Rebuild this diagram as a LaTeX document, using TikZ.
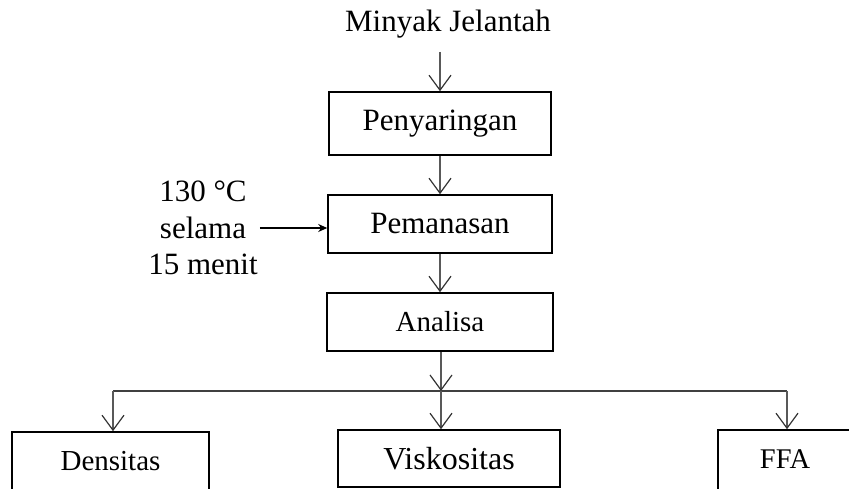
\documentclass[tikz,border=0pt]{standalone}
\usepackage{fontspec}
\setmainfont{Liberation Serif}
\usetikzlibrary{arrows.meta}
\begin{document}
\begin{tikzpicture}[x=1pt,y=1pt,
  box/.style={draw=black,line width=1.6pt,rectangle,inner sep=0pt},
  flow/.style={draw=black!65,line width=1.3pt,-{Straight Barb[length=15pt,width=22pt,line width=1.2pt,black!80]}},
  plain/.style={draw=black!75,line width=1.4pt},
  heat/.style={draw=black,line width=1.8pt,-{Stealth[length=9pt,width=8pt,inset=3pt]}},
  big/.style={font=\fontsize{31}{36.5}\selectfont},
  mid/.style={font=\fontsize{29}{34}\selectfont}]
\useasboundingbox (0,0) rectangle (849,488);
\node[big,anchor=base] (minyak) at (448,456) {Minyak Jelantah};
\coordinate (in) at (440,436);
\node[box,big,minimum width=222pt,minimum height=63pt] (pen) at (440,364.5) {Penyaringan};
\node[box,big,minimum width=224pt,minimum height=58pt] (pem) at (440,264) {Pemanasan};
\node[big,align=center,inner sep=0pt] (cond) at (203,260) {130 °C\\selama\\15 menit};
\node[box,mid,minimum width=226pt,minimum height=58pt] (ana) at (440,166) {Analisa};
\coordinate (sp) at (441,97);
\coordinate (spL) at (113,97);
\coordinate (spR) at (787,97);
\node[box,mid,minimum width=197pt,minimum height=62pt] (den) at (110.5,25) {\raisebox{4pt}{Densitas}};
\node[box,font=\fontsize{32}{36}\selectfont,minimum width=222pt,minimum height=57pt] (vis) at (449,29.5) {Viskositas};
\node[box,font=\fontsize{28.5}{34}\selectfont,minimum width=134pt,minimum height=62pt] (ffa) at (785,27) {\raisebox{4pt}{FFA}};
\draw[flow] (in) -- (pen.north -| in);
\draw[flow] (pen.south) -- (pem.north);
\draw[flow] (pem.south) -- (ana.north);
\draw[heat] ([xshift=2pt]cond.east) -- (cond.east -| pem.west);
\draw[flow] (ana.south -| sp) -- (sp);
\draw[plain] (spL) -- (spR);
\draw[flow] (spL) -- (spL |- den.north);
\draw[flow] (sp) -- (sp |- vis.north);
\draw[flow] (spR) -- (spR |- ffa.north);
\end{tikzpicture}
\end{document}
